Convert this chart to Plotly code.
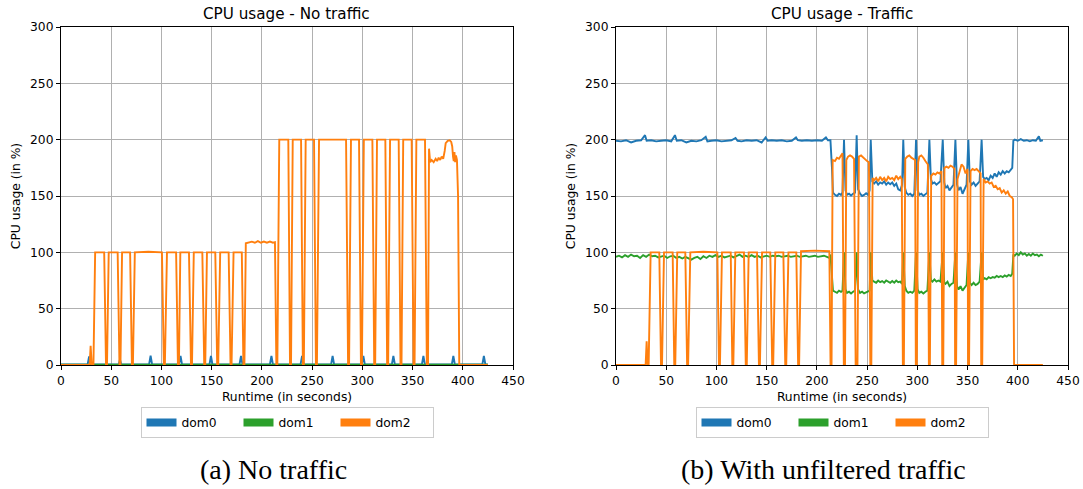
import plotly.graph_objects as go

# ---------------- data ----------------
ticks_x = [0, 50, 100, 150, 200, 250, 300, 350, 400, 450]
ticks_y = [0, 50, 100, 150, 200, 250, 300]
series_names = ["dom0", "dom1", "dom2"]
series_colors = ["#1f77b4", "#2ca02c", "#ff7f0e"]

# --- (a) No traffic ---
a_dom0_x = [0, 26.5, 28, 29.5, 57.5, 58.7, 60, 87.7, 89.2, 90.7, 117.5, 119, 120.5,
            147.8, 149.3, 150.8, 177.7, 179.2, 180.7, 208, 209.5, 211, 238.5, 240, 241.5,
            268.9, 270.4, 271.9, 299.5, 301, 302.5, 329.4, 330.9, 332.4, 359.3, 360.8, 362.3,
            389.1, 390.6, 392.1, 419.5, 421, 422.5, 425]
a_dom0_y = [0.5, 0.5, 7.5, 0.5, 0.5, 5, 0.5, 0.5, 8.3, 0.5, 0.5, 8, 0.5,
            0.5, 8, 0.5, 0.5, 8, 0.5, 0.5, 8, 0.5, 0.5, 8, 0.5,
            0.5, 8, 0.5, 0.5, 8, 0.5, 0.5, 8, 0.5, 0.5, 8, 0.5,
            0.5, 8, 0.5, 0.5, 8, 0.5, 0.5]

a_dom1_x = [0, 100, 200, 300, 425]
a_dom1_y = [0.3, 0.3, 0.3, 0.3, 0.3]

a_dom2_x = [0, 28.5, 29.5, 30.6, 32.3, 34, 43, 44.8, 45.8, 47.5, 56.4, 58.2, 59.2, 60.8,
            68.8, 70.6, 71.6, 73.5, 87, 100.5, 102.4, 103.4, 105.5, 114.6, 116.4, 117.4,
            118.8, 127.4, 129.4, 130.4, 132.2, 140.7, 142.6, 143.6, 145.3, 153.6, 155.5,
            156.5, 158.5, 166.9, 168.8, 169.8, 171.8, 180, 181.6, 182.6, 184, 187, 190,
            193, 196, 199, 202, 205, 208, 211, 213, 214.4, 215.4, 217.3, 226.3, 228, 229,
            230.7, 239, 240.8, 241.8, 243.6, 251.9, 253.8, 254.8, 256.9, 283.8, 285.8,
            286.8, 288.7, 296.7, 298.6, 299.6, 301.5, 310, 311.8, 312.8, 314.6, 322.9,
            324.7, 325.7, 327.6, 336.2, 338, 339, 340.7, 349.1, 351, 352, 353.8, 362.4,
            364.2, 365.4, 366.4, 367.5, 369, 371, 373, 374.5, 376, 377.5, 379, 380.5, 382,
            383, 385, 387, 388.5, 389.5, 390.3, 391, 391.7, 392.4, 393.2, 394.2, 395.3,
            396.5, 425]
a_dom2_y = [0, 0, 17, 0, 0, 100, 100, 0, 0, 100, 100, 0, 0, 100,
            100, 0, 0, 100, 100.5, 100, 0, 0, 100, 100, 0, 0,
            100, 100, 0, 0, 100, 100, 0, 0, 100, 100, 0,
            0, 100, 100, 0, 0, 100, 100, 0, 0, 108, 108.5, 109.5,
            108.5, 110, 108.5, 109.5, 108.5, 109.5, 108.5, 109, 0, 0, 200, 200, 0, 0,
            200, 200, 0, 0, 200, 200, 0, 0, 200, 200, 0,
            0, 200, 200, 0, 0, 200, 200, 0, 0, 200, 200,
            0, 0, 200, 200, 0, 0, 200, 200, 0, 0, 200, 200,
            0, 0, 192, 180, 182, 180, 183, 181, 184, 182, 185, 183, 190,
            197, 199, 199.5, 198, 194, 185, 181, 189, 180, 186, 182, 150,
            0, 0]

# --- (b) With unfiltered traffic ---
b_dom0_x = [0, 5, 10, 15, 20, 25, 28.9, 30.5, 35, 40, 45, 50, 55, 58.7, 60.5, 65, 70, 75,
            80, 85, 89.3, 91, 95, 100, 105, 110, 115, 119, 121, 125, 130, 135, 140, 145,
            149, 151, 155, 160, 165, 170, 175, 179.2, 181, 185, 190, 195, 200, 205, 209,
            211, 213.5, 215, 216, 218, 220, 222, 224, 225.5, 227, 228.5, 230, 232, 234,
            236, 238, 239.6, 241, 243, 245, 247, 249, 251, 252.5, 253.6, 255.2, 257, 259,
            261, 263, 265, 267, 269, 271, 273, 275, 277, 279, 281, 283, 284.8, 286, 287.5,
            289, 291, 293, 295, 297, 298.7, 300.3, 302, 304, 306, 308, 310, 312, 313.5,
            315, 317, 319, 321, 323, 325.3, 326.8, 328, 330, 332, 334, 336, 337.9, 339.5,
            341, 343, 345, 347, 349, 350.8, 352.3, 354, 356, 358, 360, 362, 364, 365.5,
            367, 369, 371, 373, 375, 377, 379, 381, 383, 385, 387, 389, 391, 393, 394.5,
            395.6, 397, 400, 403, 406, 409, 412, 415, 418, 421, 422.5, 425]
b_dom0_y = [199, 198.5, 199.5, 197.5, 199, 199.5, 204, 199, 199.5, 198.5, 199, 199.5, 198.5,
            204, 199, 199.5, 197.5, 199, 198.5, 199.5, 202.5, 198.5, 199, 199.5, 198.5, 199,
            199.5, 201.5, 199, 198.5, 199.5, 199, 199.5, 197.5, 202, 199, 199.5, 199, 199.5,
            198.5, 199, 202, 199.5, 199, 199.5, 199, 199.5, 199, 202, 199.5, 199.5, 175, 153,
            151, 150, 152, 151, 153, 200, 155, 151, 152, 150.5, 152, 153, 204, 156, 152, 150,
            151, 152.5, 151, 155, 200, 163, 161, 163, 160, 162, 161, 163, 160, 162, 160.5,
            162, 159, 161, 156, 155, 160, 200, 158, 153, 151, 152, 150, 152, 200, 155, 151,
            152, 150, 152, 153, 200, 165, 161, 162, 160, 162, 163, 200, 162, 157, 159, 155,
            158, 160, 200, 160, 155, 158, 152, 156, 160, 200, 163, 160, 162, 159, 161, 163,
            200, 167, 165, 166, 164, 168, 166, 170, 167, 171, 169, 172, 170, 172, 171, 173,
            175, 199, 200, 199, 200.5, 199, 199.5, 198.5, 199.5, 199, 203, 199, 199.5]

b_dom1_x = [0, 3, 6, 9, 12, 15, 18, 21, 24, 27, 30, 33, 36, 39, 42, 45, 48, 51, 54, 57, 60,
            63, 66, 69, 72, 75, 78, 81, 84, 87, 90, 93, 96, 99, 102, 105, 108, 111, 114,
            117, 120, 123, 126, 129, 132, 135, 138, 141, 144, 147, 150, 153, 156, 159, 162,
            165, 168, 171, 174, 177, 180, 183, 186, 189, 192, 195, 198, 201, 204, 207, 210,
            212.5, 213.5, 215, 216, 218, 220, 222, 224, 225.5, 227, 228.5, 230, 232, 234,
            236, 238, 239.6, 241, 243, 245, 247, 249, 251, 252.5, 253.6, 255.2, 257, 259,
            261, 263, 265, 267, 269, 271, 273, 275, 277, 279, 281, 283, 284.8, 286, 287.5,
            289, 291, 293, 295, 297, 298.7, 300.3, 302, 304, 306, 308, 310, 312, 313.5,
            315, 317, 319, 321, 323, 325.3, 326.8, 328, 330, 332, 334, 336, 337.9, 339.5,
            341, 343, 345, 347, 349, 350.8, 352.3, 354, 356, 358, 360, 362, 364, 365.5,
            367, 369, 371, 373, 375, 377, 379, 381, 383, 385, 387, 389, 391, 393, 394.5,
            395.6, 397, 399, 401, 403, 405, 407, 409, 411, 413, 415, 417, 419, 421, 423, 425]
b_dom1_y = [96, 97, 95.5, 97.5, 96, 98, 96.5, 97, 95, 97.5, 96, 98, 96.5, 97, 95.5, 96.5, 97,
            95, 96.5, 97, 95, 96, 94.5, 96, 95, 93.5, 95, 96, 94, 96.5, 95, 97, 96, 97.5, 96,
            97, 95.5, 96.5, 97, 95.5, 96.5, 98, 96, 97, 96, 97.5, 96, 97, 95.5, 96.5, 97, 96,
            97, 96.5, 97, 96, 96.5, 97, 96, 96.5, 97, 96, 96.5, 97, 96, 96.5, 97, 96, 96.5,
            97, 96, 95, 98, 80, 66, 65, 64, 66, 65, 66, 100, 67, 64, 65, 63.5, 65, 66, 100,
            67, 64, 65, 63.5, 64.5, 65, 66, 100, 75, 74, 73, 75, 73.5, 74.5, 73, 75, 74, 73,
            74.5, 73, 75, 73.5, 74, 72, 100, 70, 66, 64, 65, 64, 66, 100, 67, 64, 65, 63.5,
            65, 66, 100, 75, 74, 76, 74, 75, 74, 100, 73, 72, 74, 70, 72, 73, 100, 70, 67, 70,
            66, 69, 71, 100, 73, 71, 73, 71, 72, 74, 100, 76, 77, 76, 78, 77, 78, 77.5, 79,
            78, 79, 78, 79.5, 78.5, 80, 79, 81, 98, 97, 99, 97.5, 100, 98, 99, 97, 98.5, 97,
            99, 97.5, 98, 96.5, 98, 97]

b_dom2_x = [0, 29.5, 30.5, 31.5, 32.5, 34.5, 43.1, 44.8, 45.8, 47.8, 56.4, 58, 59, 61, 69,
            70.8, 71.8, 74, 87, 100.9, 102.5, 103.5, 105.5, 114.2, 115.8, 116.8, 118.8,
            127.4, 129.2, 130.2, 132.1, 140.4, 142.3, 143.3, 145.4, 153.6, 155.5, 156.5,
            158.6, 166.6, 168.5, 169.5, 171.7, 179.5, 181.3, 182.3, 184.2, 198, 212.4,
            213.6, 214.6, 215.7, 218, 220, 222, 224, 225.5, 226.8, 228, 229.3, 231, 233,
            235, 237, 238.6, 240.4, 241.8, 244, 246, 248, 250, 251.8, 253.2, 254.2, 255.5,
            257, 259, 261, 263, 265, 267, 269, 271, 273, 275, 277, 279, 281, 283, 284.5,
            285.6, 286.6, 288, 290, 292, 294, 296, 297.8, 298.5, 299.5, 300.8, 302, 304,
            306, 308, 310.5, 311.5, 312.5, 313.8, 316, 318, 320, 322, 324, 324.8, 325.8,
            327, 329, 331, 333, 335, 337, 337.6, 338.6, 340, 342, 344, 346, 348, 350,
            350.5, 351.5, 353, 355, 357, 359, 361, 363, 363.6, 364.6, 366, 368, 370, 372,
            374, 376, 378, 380, 382, 384, 386, 388, 390, 392, 394, 395.3, 396.3, 425]
b_dom2_y = [0, 0, 21, 0, 0, 100, 100, 0, 0, 100, 100, 0, 0, 100, 100,
            0, 0, 100, 100.5, 100, 0, 0, 100, 100, 0, 0, 100,
            100, 0, 0, 100, 100, 0, 0, 100, 100, 0, 0,
            100, 100, 0, 0, 100, 100, 0, 0, 101, 101.5, 101,
            0, 0, 182, 181, 184, 183, 186, 188, 0, 0, 182, 185, 186,
            185, 183, 0, 0, 185, 186, 184, 183, 181, 180, 0, 0, 166,
            164, 166, 163, 167, 164, 166, 163, 167, 165, 166, 164, 168, 165, 167, 165,
            0, 0, 183, 185, 186, 184, 183, 182, 0, 0, 180, 185, 186,
            184, 181, 178, 0, 0, 168, 170, 169, 171, 170, 172, 0, 0,
            175, 176, 175, 177, 176, 174, 0, 0, 165, 172, 178, 176, 170, 174,
            0, 0, 172, 174, 173, 174, 172, 170, 0, 0, 165, 162, 163, 161,
            162, 158, 159, 156, 157, 153, 155, 152, 154, 150, 149, 147, 0, 0]

panels = [
    ("x", "y", "legend", "CPU usage - No traffic", "(a) No traffic",
     [(a_dom0_x, a_dom0_y), (a_dom1_x, a_dom1_y), (a_dom2_x, a_dom2_y)]),
    ("x2", "y2", "legend2", "CPU usage - Traffic", "(b) With unfiltered traffic",
     [(b_dom0_x, b_dom0_y), (b_dom1_x, b_dom1_y), (b_dom2_x, b_dom2_y)]),
]

# ---------------- layout geometry (pixels) ----------------
W, H = 1083, 489
plot_left = [61, 616]
plot_w = 452
plot_top, plot_bottom = 27, 365
caption_cx = [273, 823]

SANS = "DejaVu Sans"
fig = go.Figure()

for (xa, ya, lg, title, caption, data) in panels:
    for name, color, (xs, ys) in zip(series_names, series_colors, data):
        fig.add_trace(go.Scatter(x=xs, y=ys, mode="lines", name=name,
                                 line=dict(color=color, width=1.9),
                                 xaxis=xa, yaxis=ya, showlegend=False,
                                 hoverinfo="skip"))
    for name, color in zip(series_names, series_colors):
        fig.add_trace(go.Scatter(x=[None], y=[None], mode="lines", name=name,
                                 line=dict(color=color, width=8),
                                 xaxis=xa, yaxis=ya, showlegend=True, legend=lg))

axis_common = dict(showgrid=True, gridcolor="#b0b0b0", gridwidth=1,
                   showline=True, linecolor="black", linewidth=1, mirror=True,
                   ticks="outside", ticklen=4, tickwidth=1, tickcolor="black",
                   tickfont=dict(family=SANS, size=12.3, color="black"),
                   zeroline=False, layer="above traces", automargin=False)

ydom = [(H - plot_bottom) / H, (H - plot_top) / H]
layout = dict(width=W, height=H, margin=dict(l=0, r=0, t=0, b=0, autoexpand=False),
              template="none",
              paper_bgcolor="white", plot_bgcolor="white",
              font=dict(family=SANS, color="black"), annotations=[])

for i, (xa, ya, lg, title, caption, data) in enumerate(panels):
    xd = [plot_left[i] / W, (plot_left[i] + plot_w) / W]
    xkey = "xaxis" if i == 0 else "xaxis2"
    ykey = "yaxis" if i == 0 else "yaxis2"
    layout[xkey] = dict(axis_common, domain=xd, range=[0, 450], tickvals=ticks_x,
                        anchor=ya,
                        title=dict(text="Runtime (in seconds)", standoff=5,
                                   font=dict(family=SANS, size=12.3, color="black")))
    layout[ykey] = dict(axis_common, domain=ydom, range=[0, 300], tickvals=ticks_y,
                        anchor=xa,
                        title=dict(text="CPU usage (in %)", standoff=6,
                                   font=dict(family=SANS, size=12.3, color="black")))
    cx = (xd[0] + xd[1]) / 2
    layout["legend" if i == 0 else "legend2"] = dict(
        orientation="h", x=cx, xanchor="center", y=(H - 407) / H, yanchor="top",
        bgcolor="white", bordercolor="#cccccc", borderwidth=1,
        font=dict(family=SANS, size=12.3, color="black"),
        entrywidth=52, entrywidthmode="pixels", itemwidth=30)
    layout["annotations"].append(dict(
        text=title, xref="paper", yref="paper", x=cx, y=(H - 27) / H,
        xanchor="center", yanchor="bottom", yshift=2, showarrow=False,
        font=dict(family=SANS, size=15.2, color="black")))
    layout["annotations"].append(dict(
        text=caption, xref="paper", yref="paper", x=caption_cx[i] / W, y=(H - 469) / H,
        xanchor="center", yanchor="middle", showarrow=False,
        font=dict(family="Liberation Serif", size=28, color="black")))

fig.update_layout(**layout)
fig.write_html("out.html",
               config={"displayModeBar": False},
               post_script="document.body.style.margin='0px';"
                           "document.body.style.overflow='hidden';")
